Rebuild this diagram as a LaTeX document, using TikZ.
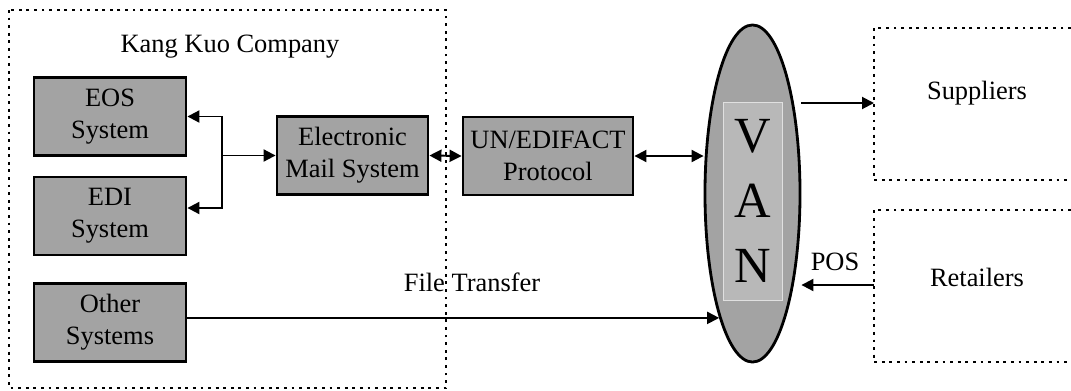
\documentclass[tikz,border=0pt]{standalone}
\usepackage{fontspec}
\setmainfont{Liberation Serif}
\usetikzlibrary{arrows.meta,shapes.geometric}

\tikzset{
  sysbox/.style={draw, line width=2pt, fill=black!36, minimum width=3.8cm,
    minimum height=1.95cm, align=center, inner sep=0pt},
  dotbox/.style={line width=2pt, dash pattern=on 2pt off 3.4pt},
  link/.style={line width=1.4pt, -{Triangle[length=0.3cm,width=0.3cm]}},
  dlink/.style={line width=1.4pt,
    {Triangle[length=0.3cm,width=0.3cm]}-{Triangle[length=0.3cm,width=0.3cm]}},
}

\begin{document}
\begin{tikzpicture}[x=0.025cm, y=-0.025cm, font=\fontsize{18.8}{23}\selectfont]
    \useasboundingbox (0,0) rectangle (1071,390);

    % Company
    \draw[dotbox] (9,10) rectangle (446,388);
    \node (title) at (230,47) {Kang Kuo Company};

    % Systems
    \node[sysbox] (eos) at (110,116.5) {EOS\\System};
    \node[sysbox] (edi) at (110,216) {EDI\\System};
    \node[sysbox] (oth) at (110,322.5) {Other\\Systems};
    \node[sysbox, minimum width=3.775cm] (mail) at (352.5,155.5) {Electronic\\Mail System};
    \node[sysbox, minimum width=4.25cm] (un) at (548,156) {UN/EDIFACT\\Protocol};

    % VAN
    \node[ellipse, draw, line width=2pt, fill=black!36, minimum width=2.375cm,
      minimum height=8.425cm, inner sep=0pt] (van) at (752.5,193.5) {};
    \node[draw=black!12, line width=0.6pt, fill=black!28, minimum width=1.475cm,
      minimum height=4.95cm, inner sep=0pt, align=center,
      font=\fontsize{36}{46}\selectfont] (vanbox) at (752.5,201) {V\\A\\N};

    % Partners
    \draw[dotbox] (1071,28) -- (874,28) -- (874,180) -- (1071,180);
    \node (sup) at (977,93) {Suppliers};
    \draw[dotbox] (1071,210) -- (874,210) -- (874,362) -- (1071,362);
    \node (ret) at (977,277) {Retailers};
    \coordinate (supin) at (874,103);
    \coordinate (retout) at (874,285);

    % Connectors
    \coordinate (jn) at (222,155.5);
    \draw[link] (jn) -- (mail.west);
    \draw[link] (jn) |- (eos.east);
    \draw[link] (jn) |- ([yshift=0.2cm]edi.east);
    \draw[dlink] (mail.east) -- (un.west);
    \draw[dlink] (un.east) -- (un.east -| van.west);
    \draw[link] (van.east |- supin) -- (supin);
    \draw[link] (retout) -- (retout -| van.east);
    \node (pos) at (835,262) {POS};
    \coordinate (vanlow) at (van.255);
    \draw[link] (vanlow -| oth.east) -- (vanlow);
    \node (ft) at (472,282) {File Transfer};
\end{tikzpicture}
\end{document}
